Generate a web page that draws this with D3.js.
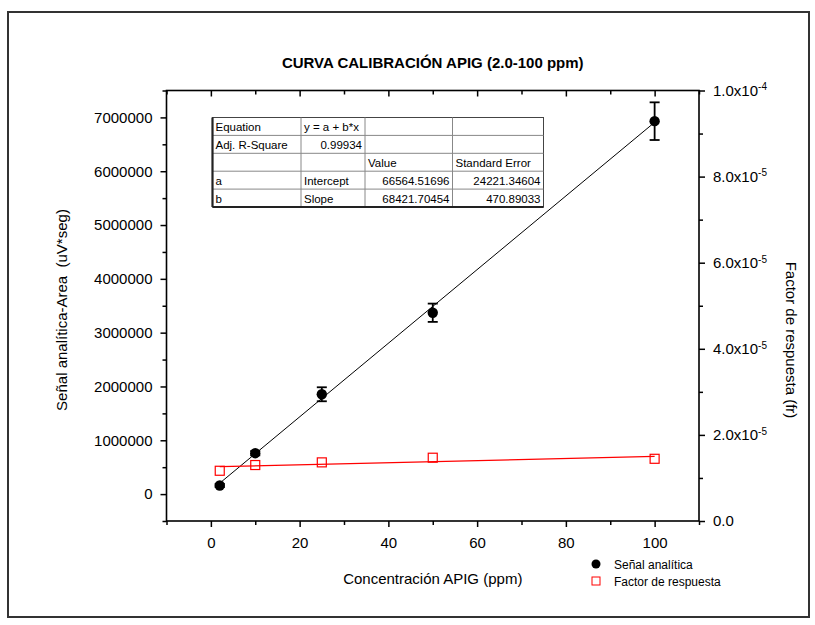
<!DOCTYPE html>
<html>
<head>
<meta charset="utf-8">
<script src="https://d3js.org/d3.v7.min.js"></script>
<style>
    body {margin: 0; background: #fff;}
    text {font-family: Arial, "Liberation Sans", sans-serif; fill: #000;}
</style>
</head>
<body>
<script>
    // data
    var conc = [2, 10, 25, 50, 100];
    var senal = [160000, 760000, 1855000, 3370000, 6930000];
    var senalErr = [30000, 40000, 130000, 170000, 350000];
    var factor = [1.167e-5, 1.300e-5, 1.362e-5, 1.470e-5, 1.445e-5];
    var fitIntercept = 66564.51696,
        fitSlope = 68421.70454;
    var tableRows = [
        ["Equation", "y = a + b*x", "", ""],
        ["Adj. R-Square", "0.99934", "", ""],
        ["", "", "Value", "Standard Error"],
        ["a", "Intercept", "66564.51696", "24221.34604"],
        ["b", "Slope", "68421.70454", "470.89033"]
    ];
    var tableAlign = [
        ["start", "start", "start", "start"],
        ["start", "end", "start", "start"],
        ["start", "start", "start", "start"],
        ["start", "start", "end", "end"],
        ["start", "start", "end", "end"]
    ];
    var xMajor = [0, 20, 40, 60, 80, 100],
        xMinor = [-10, 10, 30, 50, 70, 90, 110],
        yMajor = [0, 1000000, 2000000, 3000000, 4000000, 5000000, 6000000, 7000000],
        yMinor = [-500000, 500000, 1500000, 2500000, 3500000, 4500000, 5500000, 6500000, 7500000],
        rMajor = [0, 2e-5, 4e-5, 6e-5, 8e-5, 1e-4],
        rMinor = [1e-5, 3e-5, 5e-5, 7e-5, 9e-5];
    var legendItems = ["Señal analítica", "Factor de respuesta"];

    var W = 815, H = 625;
    var plot = {left: 166.5, right: 699, top: 90.5, bottom: 521};

    var x = d3.scaleLinear().domain([-10, 110]).range([plot.left, plot.right]);
    var y = d3.scaleLinear().domain([-500000, 7500000]).range([plot.bottom, plot.top]);
    var y2 = d3.scaleLinear().domain([0, 1e-4]).range([plot.bottom, plot.top]);

    var svg = d3.select("body").append("svg")
        .attr("width", W)
        .attr("height", H);

    // outer frame
    svg.append("rect")
        .attr("x", 8).attr("y", 12)
        .attr("width", 801).attr("height", 605)
        .attr("fill", "none").attr("stroke", "#333").attr("stroke-width", 2);

    svg.append("text")
        .attr("x", (plot.left + plot.right) / 2).attr("y", 68)
        .attr("text-anchor", "middle")
        .style("font-size", "15px").style("font-weight", "bold")
        .text("CURVA CALIBRACIÓN APIG (2.0-100 ppm)");

    function styleAxis(g) {
        g.select(".domain").remove();
        g.selectAll(".tick line").attr("stroke", "#000").attr("stroke-width", 1.5);
        g.selectAll("text").style("font-size", "15px").attr("font-family", null).attr("fill", "#000");
    }

    // bottom axis
    svg.append("g").attr("transform", "translate(0," + plot.bottom + ")")
        .call(d3.axisBottom(x).tickValues(xMajor).tickSize(6).tickPadding(10).tickFormat(d3.format("d")))
        .call(styleAxis);
    svg.append("g").attr("transform", "translate(0," + plot.bottom + ")")
        .call(d3.axisBottom(x).tickValues(xMinor).tickSize(4).tickFormat(""))
        .call(styleAxis);
    // top axis, ticks inward
    svg.append("g").attr("transform", "translate(0," + plot.top + ")")
        .call(d3.axisBottom(x).tickValues(xMajor).tickSize(6).tickFormat(""))
        .call(styleAxis);
    svg.append("g").attr("transform", "translate(0," + plot.top + ")")
        .call(d3.axisBottom(x).tickValues(xMinor).tickSize(4).tickFormat(""))
        .call(styleAxis);

    // left axis
    svg.append("g").attr("transform", "translate(" + plot.left + ",0)")
        .call(d3.axisLeft(y).tickValues(yMajor).tickSize(6).tickPadding(8).tickFormat(d3.format("d")))
        .call(styleAxis);
    svg.append("g").attr("transform", "translate(" + plot.left + ",0)")
        .call(d3.axisLeft(y).tickValues(yMinor).tickSize(4).tickFormat(""))
        .call(styleAxis);

    // right axis
    var rAxis = svg.append("g").attr("transform", "translate(" + plot.right + ",0)")
        .call(d3.axisRight(y2).tickValues(rMajor).tickSize(6).tickPadding(8))
        .call(styleAxis);
    rAxis.selectAll(".tick text").each(function (d) {
        var t = d3.select(this).text("");
        if (d === 0) { t.text("0.0"); return; }
        var e = Math.floor(Math.log10(d) + 1e-9),
            m = d / Math.pow(10, e);
        t.append("tspan").text(m.toFixed(1) + "x10");
        t.append("tspan").attr("dy", "-0.55em").style("font-size", "10px").text(e);
    });
    svg.append("g").attr("transform", "translate(" + plot.right + ",0)")
        .call(d3.axisRight(y2).tickValues(rMinor).tickSize(4).tickFormat(""))
        .call(styleAxis);

    // plot frame
    svg.append("rect")
        .attr("x", plot.left).attr("y", plot.top)
        .attr("width", plot.right - plot.left).attr("height", plot.bottom - plot.top)
        .attr("fill", "none").attr("stroke", "#000").attr("stroke-width", 1.6);

    // axis titles
    svg.append("text")
        .attr("transform", "translate(67,310) rotate(-90)")
        .attr("text-anchor", "middle").style("font-size", "15px")
        .text("Señal analítica-Area  (uV*seg)").style("white-space", "pre");
    svg.append("text")
        .attr("transform", "translate(786,340) rotate(90)")
        .attr("text-anchor", "middle").style("font-size", "15px")
        .text("Factor de respuesta (fr)");
    svg.append("text")
        .attr("x", (plot.left + plot.right) / 2).attr("y", 584)
        .attr("text-anchor", "middle").style("font-size", "15px")
        .text("Concentración APIG (ppm)");

    // black fit line from the table
    var x0 = d3.min(conc), x1 = d3.max(conc);
    svg.append("line")
        .attr("x1", x(x0)).attr("y1", y(fitIntercept + fitSlope * x0))
        .attr("x2", x(x1)).attr("y2", y(fitIntercept + fitSlope * x1))
        .attr("stroke", "#000").attr("stroke-width", 1);

    // red fit line, least squares of the factor data
    var mx = d3.mean(conc), my = d3.mean(factor),
        sxy = d3.sum(conc, function (c, i) { return (c - mx) * (factor[i] - my); }),
        sxx = d3.sum(conc, function (c) { return (c - mx) * (c - mx); }),
        rSlope = sxy / sxx, rInt = my - rSlope * mx;
    svg.append("line")
        .attr("x1", x(x0)).attr("y1", y2(rInt + rSlope * x0))
        .attr("x2", x(x1)).attr("y2", y2(rInt + rSlope * x1))
        .attr("stroke", "#ff0000").attr("stroke-width", 1.2);

    // error bars
    var eb = svg.append("g").attr("stroke", "#000").attr("stroke-width", 1.8);
    conc.forEach(function (c, i) {
        var cx = x(c), t = y(senal[i] + senalErr[i]), b = y(senal[i] - senalErr[i]);
        eb.append("line").attr("x1", cx).attr("x2", cx).attr("y1", t).attr("y2", b);
        eb.append("line").attr("x1", cx - 5).attr("x2", cx + 5).attr("y1", t).attr("y2", t);
        eb.append("line").attr("x1", cx - 5).attr("x2", cx + 5).attr("y1", b).attr("y2", b);
    });

    svg.append("g").selectAll("circle")
        .data(senal).enter().append("circle")
        .attr("cx", function (d, i) { return x(conc[i]); })
        .attr("cy", function (d) { return y(d); })
        .attr("r", 5.2).attr("fill", "#000");

    svg.append("g").selectAll("rect")
        .data(factor).enter().append("rect")
        .attr("x", function (d, i) { return x(conc[i]) - 4.5; })
        .attr("y", function (d) { return y2(d) - 4.5; })
        .attr("width", 9).attr("height", 9)
        .attr("fill", "none").attr("stroke", "#ff0000").attr("stroke-width", 1.2);

    // fit table
    var tab = {x: 212.5, y: 117.5, cols: [0, 88.5, 152.5, 240, 331], rowH: 17.9};
    var tg = svg.append("g").attr("transform", "translate(" + tab.x + "," + tab.y + ")");
    var tW = tab.cols[4], tH = tab.rowH * tableRows.length;
    tg.append("rect").attr("width", tW).attr("height", tH)
        .attr("fill", "#fff").attr("stroke", "#444").attr("stroke-width", 1);
    tableRows.forEach(function (row, r) {
        if (r > 0) tg.append("line").attr("x1", 0).attr("x2", tW)
            .attr("y1", r * tab.rowH).attr("y2", r * tab.rowH)
            .attr("stroke", "#888").attr("stroke-width", 1);
        row.forEach(function (cell, c) {
            var a = tableAlign[r][c];
            tg.append("text")
                .attr("x", a === "end" ? tab.cols[c + 1] - 3 : tab.cols[c] + 3)
                .attr("y", r * tab.rowH + 13.5)
                .attr("text-anchor", a)
                .style("font-size", "11.5px")
                .text(cell);
        });
    });
    for (var c = 1; c < 4; c++) {
        tg.append("line").attr("x1", tab.cols[c]).attr("x2", tab.cols[c])
            .attr("y1", 0).attr("y2", tH).attr("stroke", "#888").attr("stroke-width", 1);
    }
    tg.append("line").attr("x1", 0).attr("x2", 0).attr("y1", 0).attr("y2", tH)
        .attr("stroke", "#222").attr("stroke-width", 2.2);
    tg.append("line").attr("x1", 0).attr("x2", tW).attr("y1", tH).attr("y2", tH)
        .attr("stroke", "#222").attr("stroke-width", 2.2);

    // legend
    var lg = svg.append("g").attr("transform", "translate(596,564)");
    lg.append("circle").attr("cx", 0).attr("cy", 0).attr("r", 4.5).attr("fill", "#000");
    lg.append("rect").attr("x", -4).attr("y", 13).attr("width", 8).attr("height", 8)
        .attr("fill", "none").attr("stroke", "#ff0000").attr("stroke-width", 1);
    lg.selectAll("text.leg").data(legendItems).enter().append("text")
        .attr("class", "leg")
        .attr("x", 18).attr("y", function (d, i) { return 5 + i * 17; })
        .style("font-size", "12px")
        .text(function (d) { return d; });
</script>
</body>
</html>
